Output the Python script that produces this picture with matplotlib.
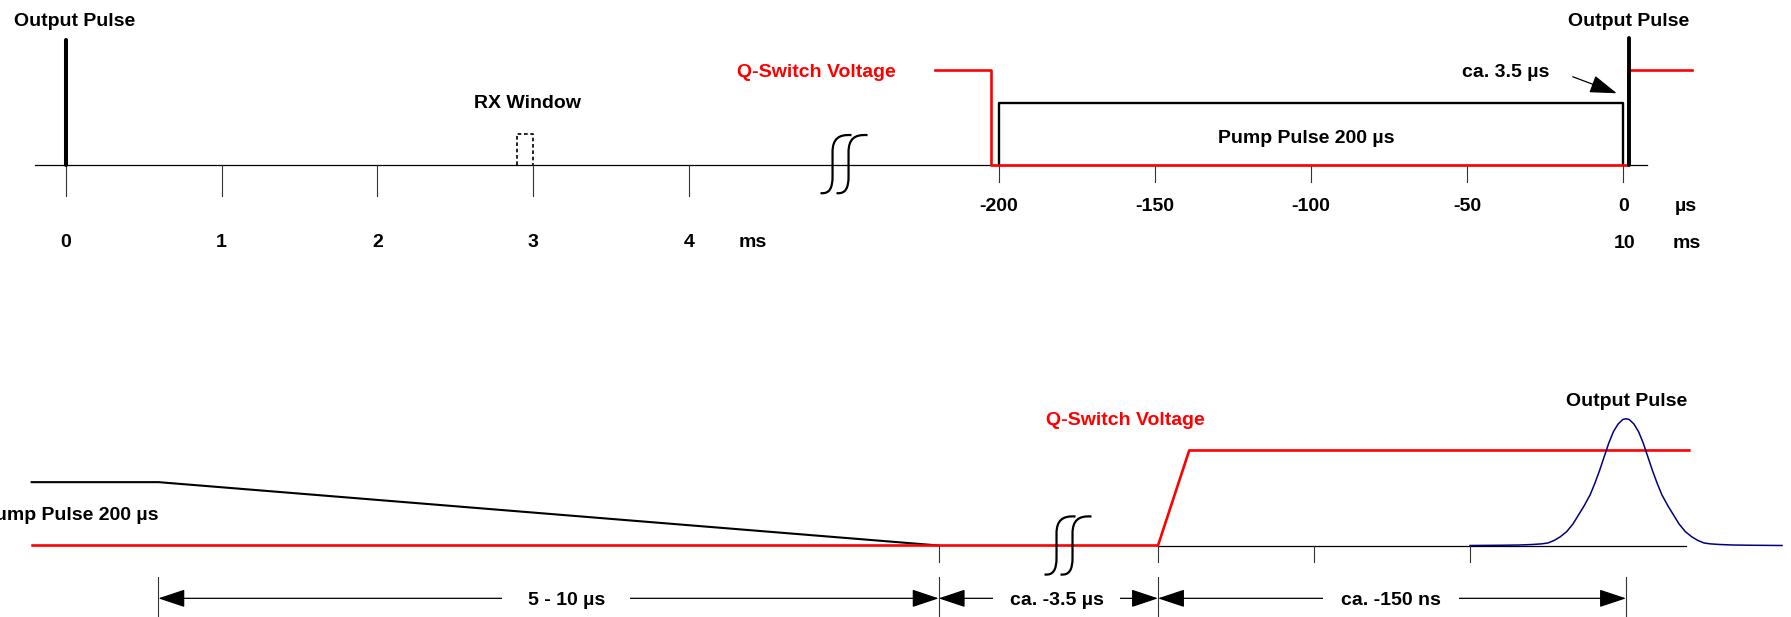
"""
Pulse timing diagram: pump pulse, Q-switch voltage and output pulse.
"""

import matplotlib.pyplot as plt
from matplotlib.path import Path
from matplotlib.patches import PathPatch
from matplotlib.transforms import Affine2D, ScaledTranslation

plt.rcParams['font.family'] = ['Liberation Sans', 'DejaVu Sans']
plt.rcParams['font.weight'] = 'bold'
plt.rcParams['font.size'] = 14

# ---- top row, left part (ms) ----
ms_ticks = [0, 1, 2, 3, 4]
ms_labels = ['0', '1', '2', '3', '4']
out_pulse_ms = 0.0
rx_window_ms = [2.895, 3.0]
rx_level = 0.25

# ---- top row, right part (µs) ----
us_ticks = [-200, -150, -100, -50, 0]
us_labels = ['-200', '-150', '-100', '-50', '0']
pump_us = [-200, 0]
pump_level = 0.5
qsw_top_t = [-220.5, -202.4, -202.4, 1.5, 1.5, 21.9]
qsw_top_v = [0.76, 0.76, 0, 0, 0.76, 0.76]
out_pulse_us = 1.8
pulse_level = 1.0

# ---- bottom row (ns, 0 = output pulse peak) ----
pump_fall_t = [-511, -470.3, -220.3]
pump_fall_v = [0.5, 0.5, 0]
qsw_bot_t = [-510.7, -150, -140, 20.3]
qsw_bot_v = [0, 0, 0.75, 0.75]
ns_ticks = [-220.3, -150, -100, -50]
pulse_t = [-50, -40, -34, -30, -27, -25, -23, -21, -19, -17, -15.5, -13.5, -11.5,
           -10, -8.5, -7, -5.5, -4, -2.5, -1, 0,
           1, 2.5, 4, 5.5, 7, 8.5, 10, 11.5, 13.5, 15.5, 17, 19, 21, 23, 25, 27,
           30, 34, 40, 50]
pulse_a = [0, 0.002, 0.004, 0.008, 0.013, 0.02, 0.04, 0.07, 0.11, 0.17, 0.23, 0.31, 0.40,
           0.49, 0.59, 0.70, 0.81, 0.90, 0.96, 0.995, 1.0,
           0.995, 0.96, 0.90, 0.81, 0.70, 0.59, 0.49, 0.40, 0.31, 0.23, 0.17, 0.11, 0.07,
           0.04, 0.02, 0.013, 0.008, 0.004, 0.002, 0]
dim_start = [-470.4, -220.3, -150]
dim_end = [-220.3, -150, 0]
dim_text = ['5 - 10 µs', 'ca. -3.5 µs', 'ca. -150 ns']
dim_text_x = [-339.7, -182.5, -75.3]
dim_gap = [1.3, 0.85, 0.95]

RED = '#ff0000'
BLUE = '#000080'
GREY = '#333333'


def draw_break(ax, x, y):
    # two integral-like strokes, drawn in pixels around a data point
    fig = ax.figure
    trans = Affine2D().scale(1 / fig.dpi) + fig.dpi_scale_trans + ScaledTranslation(x, y, ax.transData)
    for v in (-13.5, 2.5):
        verts = [(v - 12, -29), (v - 3, -30), (v, -24), (v, -12),
                 (v, 12), (v, 25), (v + 6, 30), (v + 19, 29)]
        codes = [Path.MOVETO, Path.CURVE4, Path.CURVE4, Path.CURVE4,
                 Path.LINETO, Path.CURVE4, Path.CURVE4, Path.CURVE4]
        ax.add_patch(PathPatch(Path(verts, codes), transform=trans, fill=False,
                               lw=1.6, color='k', zorder=6))


fig = plt.figure(figsize=(17.91, 6.17), dpi=100)

# three overlaid axes, one per time scale
ax_ms = fig.add_axes([0, 0, 1, 1])
ax_us = fig.add_axes([0, 0, 1, 1])
ax_ns = fig.add_axes([0, 0, 1, 1])
ax_ms.set_xlim(-0.4223, 11.0732)
ax_us.set_xlim(-519.95, 53.71)
for a in (ax_ms, ax_us):
    a.set_ylim(-3.616, 1.32)
ax_ns.set_xlim(-521.15, 52.88)
ax_ns.set_ylim(-0.5643, 4.3055)
for a in (ax_ms, ax_us, ax_ns):
    a.set_axis_off()
    a.patch.set_alpha(0)

# ---------------- top row, ms part ----------------
ax_ms.plot([-0.2, 5.0], [0, 0], color='k', lw=0.9)
for t, lab in zip(ms_ticks, ms_labels):
    ax_ms.plot([t, t], [0, -0.245], color=GREY, lw=0.8)
    ax_ms.text(t, -0.654, lab, ha='center', va='baseline')
ax_ms.text(4.411, -0.654, 'ms', ha='center', va='baseline')
ax_ms.plot([out_pulse_ms, out_pulse_ms], [0, pulse_level], color='k', lw=2.9,
           solid_capstyle='round', zorder=5)
ax_ms.text(0.056, 1.112, 'Output Pulse', ha='center', va='baseline')
ax_ms.plot([rx_window_ms[0], rx_window_ms[0], rx_window_ms[1], rx_window_ms[1]],
           [0, rx_level, rx_level, 0], color='k', lw=1.2, linestyle=(0, (2.2, 1.6)))
ax_ms.text(2.96, 0.454, 'RX Window', ha='center', va='baseline')
draw_break(ax_ms, 5.008, 0.007)

# ---------------- top row, µs part ----------------
ax_us.plot([-249, 7.5], [0, 0], color='k', lw=0.9)
for t, lab in zip(us_ticks, us_labels):
    ax_us.plot([t, t], [0, -0.134], color=GREY, lw=0.8)
    ax_us.text(t, -0.366, lab, ha='center', va='baseline')
ax_us.text(20.1, -0.366, 'µs', ha='center', va='baseline')
ax_us.text(0.5, -0.664, '10', ha='center', va='baseline')
ax_us.text(20.4, -0.664, 'ms', ha='center', va='baseline')
ax_us.plot([pump_us[0], pump_us[0], pump_us[1], pump_us[1]],
           [0, pump_level, pump_level, 0], color='k', lw=1.7, zorder=3)
ax_us.text(-101.6, 0.178, 'Pump Pulse 200 µs', ha='center', va='baseline')
ax_us.plot(qsw_top_t, qsw_top_v, color=RED, lw=1.9, zorder=4)
ax_us.text(-258.6, 0.706, 'Q-Switch Voltage', ha='center', va='baseline', color=RED)
ax_us.plot([out_pulse_us, out_pulse_us], [0, 1.018], color='k', lw=2.8,
           solid_capstyle='round', zorder=5)
ax_us.text(1.8, 1.112, 'Output Pulse', ha='center', va='baseline')
ax_us.text(-37.6, 0.706, 'ca. 3.5 µs', ha='center', va='baseline')
ax_us.annotate('', xy=(-2.1, 0.574), xytext=(-16.2, 0.706),
               arrowprops=dict(arrowstyle='-|>,head_length=1.2,head_width=0.4',
                               color='k', lw=0.9, shrinkA=0, shrinkB=0))

# ---------------- bottom row ----------------
ax_ns.plot([-150, 19.2], [0, 0], color='k', lw=0.9)
for t in ns_ticks:
    ax_ns.plot([t, t], [0, -0.128], color=GREY, lw=0.8)
ax_ns.plot(pump_fall_t, pump_fall_v, color='k', lw=1.5, zorder=3)
ax_ns.text(-470.3, 0.201, 'Pump Pulse 200 µs', ha='right', va='baseline')
ax_ns.plot(qsw_bot_t, qsw_bot_v, color=RED, lw=1.9, zorder=4)
ax_ns.text(-160.3, 0.951, 'Q-Switch Voltage', ha='center', va='baseline', color=RED)
ax_ns.plot(pulse_t, pulse_a, color=BLUE, lw=1.1, zorder=5)
ax_ns.text(0.16, 1.101, 'Output Pulse', ha='center', va='baseline')
draw_break(ax_ns, -178.2, 0.0)

# dimension lines
for x in sorted(set(dim_start + dim_end)):
    ax_ns.plot([x, x], [-0.246, -0.6], color=GREY, lw=0.8)
for x0, x1, s, xt, g in zip(dim_start, dim_end, dim_text, dim_text_x, dim_gap):
    ax_ns.annotate('', xy=(x1, -0.417), xytext=(x0, -0.417),
                   arrowprops=dict(arrowstyle='<|-|>,head_length=1.2,head_width=0.4',
                                   color='k', lw=0.9, shrinkA=0, shrinkB=0))
    ax_ns.text(xt, -0.47, s, ha='center', va='baseline', zorder=5,
               bbox=dict(boxstyle='square,pad=%.2f' % g, fc='white', ec='none'))

fig.savefig('out.png', dpi=100)
